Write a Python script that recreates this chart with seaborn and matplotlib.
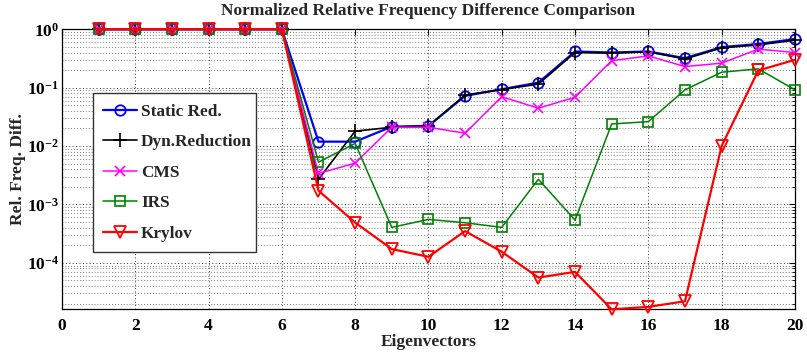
import numpy as np
import pandas as pd
import matplotlib
matplotlib.use("Agg")
import matplotlib.pyplot as plt
import seaborn as sns
from matplotlib.ticker import FixedLocator, LogLocator, FuncFormatter, NullFormatter

# Eigenvector index
modes = list(range(1, 21))

# Normalized relative frequency difference per reduction method
static_red = [1.0, 1.0, 1.0, 1.0, 1.0, 1.0, 0.0119, 0.0119, 0.0215, 0.0222,
              0.0723, 0.094, 0.122, 0.417, 0.40, 0.417, 0.32, 0.495, 0.56, 0.68]
dyn_reduction = [1.0, 1.0, 1.0, 1.0, 1.0, 1.0, 0.0027, 0.018, 0.021, 0.022,
                 0.075, 0.093, 0.115, 0.40, 0.39, 0.41, 0.31, 0.48, 0.54, 0.65]
cms = [1.0, 1.0, 1.0, 1.0, 1.0, 1.0, 0.0034, 0.0051, 0.021, 0.021,
       0.0166, 0.070, 0.0445, 0.0686, 0.29, 0.35, 0.23, 0.263, 0.457, 0.40]
irs = [1.0, 1.0, 1.0, 1.0, 1.0, 1.0, 0.0053, 0.0111, 4.05e-4, 5.55e-4,
       4.86e-4, 4.05e-4, 2.7e-3, 5.4e-4, 0.0239, 0.0262, 0.0917, 0.184, 0.21, 0.092]
krylov = [1.0, 1.0, 1.0, 1.0, 1.0, 1.0, 1.72e-3, 4.9e-4, 1.72e-4, 1.27e-4,
          3.5e-4, 1.55e-4, 5.6e-5, 7.0e-5, 1.6e-5, 1.76e-5, 2.2e-5, 0.010, 0.197, 0.30]

method_names = ["Static Red.", "Dyn.Reduction", "CMS", "IRS", "Krylov"]
x_ticks = list(range(0, 21, 2))
y_ticks = [1e-4, 1e-3, 1e-2, 1e-1, 1e0]

series = [static_red, dyn_reduction, cms, irs, krylov]
styles = [
    dict(color="#0000FF", marker="o", lw=1.6, ms=7.5, mew=1.3),
    dict(color="#000000", marker="+", lw=1.2, ms=10, mew=1.2),
    dict(color="#FF00FF", marker="x", lw=1.1, ms=7, mew=1.2),
    dict(color="#008000", marker="s", lw=1.1, ms=7, mew=1.2),
    dict(color="#FF0000", marker="v", lw=1.6, ms=8.5, mew=1.3),
]

sns.set_theme(style="white")
serif_bold = "Liberation Serif"
plt.rcParams["font.family"] = [serif_bold, "DejaVu Serif"]
plt.rcParams["font.weight"] = "bold"
plt.rcParams["mathtext.fontset"] = "custom"
plt.rcParams["mathtext.rm"] = "Liberation Serif:bold"
plt.rcParams["mathtext.bf"] = "Liberation Serif:bold"
plt.rcParams["mathtext.it"] = "Liberation Serif:bold"

fig = plt.figure(figsize=(8.07, 3.55), dpi=100)
ax = fig.add_axes([0.0768, 0.1287, 0.9082, 0.7888])

for name, vals, st in zip(method_names, series, styles):
    df = pd.DataFrame({"Eigenvectors": modes, "diff": vals})
    sns.lineplot(data=df, x="Eigenvectors", y="diff", ax=ax, label=name,
                 color=st["color"], marker=st["marker"], linewidth=st["lw"],
                 markersize=st["ms"], markeredgewidth=st["mew"],
                 markeredgecolor=st["color"], markerfacecolor="none",
                 clip_on=False, zorder=3)

ax.set_yscale("log")
ax.set_xlim(0, 20)
ax.set_ylim(1.6e-5, 1.0)

ax.xaxis.set_major_locator(FixedLocator(x_ticks))
ax.yaxis.set_major_locator(FixedLocator(y_ticks))
ax.yaxis.set_minor_locator(LogLocator(base=10, subs=np.arange(2, 10), numticks=20))
ax.yaxis.set_minor_formatter(NullFormatter())


def exp_label(v, pos):
    return r"$\mathbf{10^{%d}}$" % int(round(np.log10(v)))


ax.yaxis.set_major_formatter(FuncFormatter(exp_label))

ax.tick_params(axis="both", which="both", direction="in", top=True, right=True,
               colors="black", labelsize=12.5)
ax.tick_params(axis="both", which="major", length=4, width=0.8)
ax.tick_params(axis="y", which="minor", length=2.5, width=0.6)
ax.tick_params(axis="x", which="major", pad=6)
ax.tick_params(axis="y", which="major", pad=2)
for lab in ax.get_xticklabels():
    lab.set_fontweight("bold")

ax.grid(True, which="major", axis="both", linestyle=(0, (1, 2.5)), color="#333333", linewidth=0.7)
ax.grid(True, which="minor", axis="y", linestyle=(0, (1, 2.5)), color="#555555", linewidth=0.6)
ax.set_axisbelow(True)

for sp in ax.spines.values():
    sp.set_color("black")
    sp.set_linewidth(0.9)

ax.set_title("Normalized Relative Frequency Difference Comparison",
             fontsize=12.5, fontweight="bold", pad=10)
ax.set_xlabel("Eigenvectors", fontsize=12.5, fontweight="bold", labelpad=0)
ax.set_ylabel("Rel. Freq. Diff.", fontsize=12.5, fontweight="bold", labelpad=1)

leg = ax.legend(loc="lower left", bbox_to_anchor=(0.0423, 0.2046, 0.2224, 0.5679),
                mode="expand", frameon=True, fancybox=False, framealpha=1,
                edgecolor="#333333", prop={"family": serif_bold, "weight": "bold", "size": 12.4},
                handlelength=1.95, handletextpad=0.25, labelspacing=0.84,
                borderpad=0.6, borderaxespad=0, numpoints=1)
leg.get_frame().set_linewidth(1.0)

fig.savefig("out.png", dpi=100, facecolor="white")
